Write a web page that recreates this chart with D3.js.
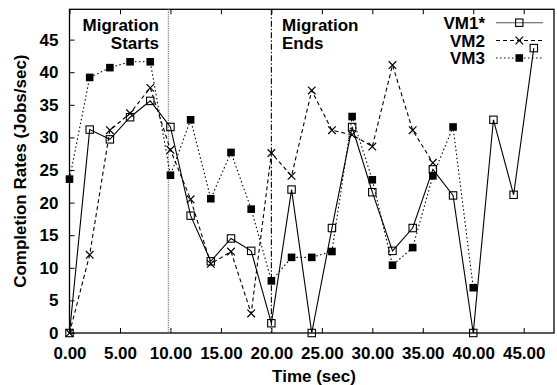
<!DOCTYPE html>
<html><head><meta charset="utf-8">
<script src="https://cdn.jsdelivr.net/npm/d3@7"></script>
<style>
body{margin:0;background:#fff;}
text{font-family:"Liberation Sans",Arial,Helvetica,sans-serif;font-weight:bold;fill:#000;}
</style></head>
<body><svg id="c" width="557" height="385"></svg>
<script>
const times = [0,2,4,6,8,10,12,14,16,18,20,22,24,26,28,30,32,34,36,38,40,42,44,46];
const vm1 = [0,31.2,29.7,33.1,35.6,31.6,18.0,11.0,14.5,12.6,1.5,22.0,0,16.1,31.6,21.6,12.6,16.1,25.1,21.1,0,32.7,21.2,43.7];
const vm2 = [0,12.0,31.1,33.7,37.6,28.1,20.5,10.6,12.5,3.0,27.6,24.1,37.2,31.1,30.4,28.6,41.1,31.1,26.1];
const vm3 = [23.6,39.2,40.7,41.6,41.6,24.2,32.7,20.6,27.7,19.0,8.0,11.6,11.6,12.5,33.2,23.5,10.4,13.1,24.1,31.6,6.95];
const seriesNames = ["VM1*","VM2","VM3"];
const xTicks = [0,5,10,15,20,25,30,35,40,45];
const yTicks = [0,5,10,15,20,25,30,35,40,45];
const markers = [{x:9.8,label:["Migration","Starts"]},{x:20,label:["Migration","Ends"]}];

const svg = d3.select("#c");
const L=69.5,R=554,T=9.3,B=333;
const x = d3.scaleLinear().domain([0,48]).range([L,R]);
const y = d3.scaleLinear().domain([0,49.65]).range([B,T]);
const FS=17;

// frame
svg.append("rect").attr("x",L).attr("y",T).attr("width",R-L).attr("height",B-T)
  .attr("fill","none").attr("stroke","#000").attr("stroke-width",1.3);

// axes
const xb = svg.append("g").attr("transform",`translate(0,${B})`)
  .call(d3.axisBottom(x).tickValues(xTicks).tickSize(-5).tickPadding(10).tickFormat(d3.format(".2f")));
const xt = svg.append("g").attr("transform",`translate(0,${T})`)
  .call(d3.axisTop(x).tickValues(xTicks).tickSize(-5).tickFormat(""));
const yl = svg.append("g").attr("transform",`translate(${L},0)`)
  .call(d3.axisLeft(y).tickValues(yTicks).tickSize(-5).tickPadding(11));
[xb,xt,yl].forEach(g=>{g.select(".domain").remove();g.selectAll("line").attr("stroke","#000").attr("stroke-width",1);});
xb.selectAll("text").attr("font-size",FS).attr("font-family",null).attr("dy","0.95em");
yl.selectAll("text").attr("font-size",FS).attr("font-family",null);

// axis titles
svg.append("text").attr("x",314).attr("y",382).attr("text-anchor","middle").attr("font-size",FS).text("Time (sec)");
svg.append("text").attr("transform",`translate(26,${(T+B)/2}) rotate(-90)`).attr("text-anchor","middle")
  .attr("font-size",FS).text("Completion Rates (Jobs/sec)");

// migration lines
svg.append("line").attr("x1",x(markers[0].x)).attr("x2",x(markers[0].x)).attr("y1",T).attr("y2",B)
  .attr("stroke","#888").attr("stroke-width",1.3).attr("stroke-dasharray","1.3,1");
svg.append("line").attr("x1",x(markers[1].x)).attr("x2",x(markers[1].x)).attr("y1",T).attr("y2",B)
  .attr("stroke","#000").attr("stroke-width",1.1).attr("stroke-dasharray","6,2,1.5,2");
const t1 = svg.append("text").attr("text-anchor","end").attr("font-size",FS);
t1.append("tspan").attr("x",159).attr("y",31).text(markers[0].label[0]);
t1.append("tspan").attr("x",159).attr("y",48.5).text(markers[0].label[1]);
const t2 = svg.append("text").attr("text-anchor","start").attr("font-size",FS);
t2.append("tspan").attr("x",282).attr("y",31).text(markers[1].label[0]);
t2.append("tspan").attr("x",282).attr("y",48.5).text(markers[1].label[1]);

// series
const data = [vm1,vm2,vm3];
const dashes = [null,"4,3","1.5,2.5"];
const line = d3.line().x(d=>x(d[0])).y(d=>y(d[1]));
function marker(g,type,cx,cy){
  if(type===0){
    g.append("rect").attr("x",cx-3.7).attr("y",cy-3.7).attr("width",7.4).attr("height",7.4)
      .attr("fill","none").attr("stroke","#000").attr("stroke-width",1.1);
  } else if(type===1){
    const s=3.8;
    g.append("path").attr("d",`M${cx-s},${cy-s}L${cx+s},${cy+s}M${cx-s},${cy+s}L${cx+s},${cy-s}`)
      .attr("stroke","#000").attr("stroke-width",1.2);
  } else {
    g.append("rect").attr("x",cx-3.8).attr("y",cy-3.8).attr("width",7.6).attr("height",7.6).attr("fill","#000");
  }
}
data.forEach((vals,i)=>{
  const pts = vals.map((v,j)=>[times[j],v]);
  svg.append("path").attr("d",line(pts)).attr("fill","none").attr("stroke","#000")
    .attr("stroke-width",1.1).attr("stroke-dasharray",dashes[i]);
  const g = svg.append("g");
  pts.forEach(p=>marker(g,i,x(p[0]),y(p[1])));
});

// legend
const legY=[22.7,40.5,58];
seriesNames.forEach((n,i)=>{
  svg.append("text").attr("x",485).attr("y",legY[i]+6).attr("text-anchor","end").attr("font-size",FS).text(n);
  svg.append("line").attr("x1",496).attr("x2",543).attr("y1",legY[i]).attr("y2",legY[i])
    .attr("stroke",i===0?"#555":"#000").attr("stroke-width",1.1).attr("stroke-dasharray",dashes[i]);
  const g=svg.append("g"); marker(g,i,519.3,legY[i]);
});
</script></body></html>
